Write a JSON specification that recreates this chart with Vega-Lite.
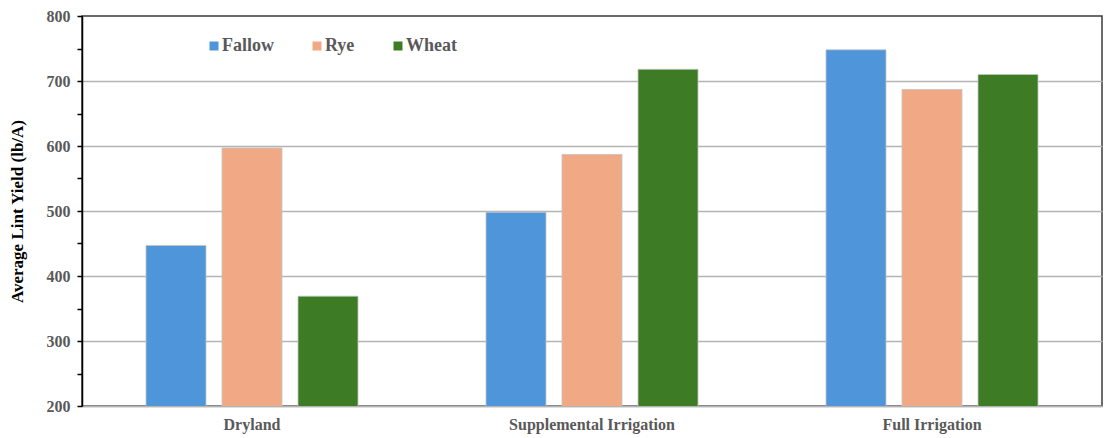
{
  "$schema": "https://vega.github.io/schema/vega-lite/v6.json",
  "autosize": {"type": "none"},
  "padding": {"left": 82, "top": 16, "right": 2, "bottom": 32},
  "width": 1020,
  "height": 390,
  "background": "white",
  "config": {
    "view": {"stroke": "#3a3a3a", "strokeWidth": 1.5},
    "font": "Liberation Serif"
  },
  "data": {
    "values": [
      {"system": "Dryland", "cover": "Fallow", "yield": 447},
      {"system": "Dryland", "cover": "Rye", "yield": 597},
      {"system": "Dryland", "cover": "Wheat", "yield": 369},
      {"system": "Supplemental Irrigation", "cover": "Fallow", "yield": 498},
      {"system": "Supplemental Irrigation", "cover": "Rye", "yield": 587},
      {"system": "Supplemental Irrigation", "cover": "Wheat", "yield": 718},
      {"system": "Full Irrigation", "cover": "Fallow", "yield": 748},
      {"system": "Full Irrigation", "cover": "Rye", "yield": 687},
      {"system": "Full Irrigation", "cover": "Wheat", "yield": 710}
    ]
  },
  "mark": {"type": "bar", "clip": true, "stroke": "#c4c4c4", "strokeWidth": 0.8},
  "encoding": {
    "x": {
      "field": "system",
      "type": "nominal",
      "sort": ["Dryland", "Supplemental Irrigation", "Full Irrigation"],
      "scale": {"paddingInner": 0, "paddingOuter": 0},
      "axis": {
        "title": null,
        "labelAngle": 0,
        "labelFont": "Liberation Serif",
        "labelFontWeight": "bold",
        "labelFontSize": 16,
        "labelColor": "#595959",
        "labelPadding": 10,
        "ticks": false,
        "domainColor": "#b4b4b4",
        "domainWidth": 1.5
      }
    },
    "xOffset": {
      "field": "cover",
      "type": "nominal",
      "sort": ["Fallow", "Rye", "Wheat"],
      "scale": {"paddingInner": 0.2105, "paddingOuter": 0.842}
    },
    "y": {
      "field": "yield",
      "type": "quantitative",
      "scale": {"domain": [200, 800], "nice": false, "zero": false},
      "axis": {
        "title": "Average Lint Yield (lb/A)",
        "titleFont": "Liberation Serif",
        "titleFontWeight": "bold",
        "titleFontSize": 17,
        "titleColor": "#000000",
        "titlePadding": 20,
        "values": [200, 250, 300, 350, 400, 450, 500, 550, 600, 650, 700, 750, 800],
        "labelExpr": "datum.value % 100 === 0 ? datum.label : ''",
        "labelFont": "Liberation Serif",
        "labelFontWeight": "bold",
        "labelFontSize": 16,
        "labelColor": "#595959",
        "labelPadding": 7,
        "tickSize": 5,
        "tickColor": "#000000",
        "tickWidth": 1.5,
        "domainColor": "#000000",
        "domainWidth": 1.5,
        "grid": true,
        "gridColor": "#b4b4b4",
        "gridWidth": 1.4,
        "gridOpacity": {
          "condition": {"test": "datum.value % 100 === 0 && datum.value < 800", "value": 1},
          "value": 0
        }
      }
    },
    "color": {
      "field": "cover",
      "type": "nominal",
      "sort": ["Fallow", "Rye", "Wheat"],
      "scale": {
        "domain": ["Fallow", "Rye", "Wheat"],
        "range": ["#4f95d9", "#f0a984", "#3d7c24"]
      },
      "legend": {
        "title": null,
        "orient": "none",
        "direction": "horizontal",
        "legendX": 123,
        "legendY": 21,
        "symbolType": "square",
        "symbolSize": 81,
        "symbolStrokeWidth": 0,
        "labelFont": "Liberation Serif",
        "labelFontWeight": "bold",
        "labelFontSize": 18,
        "labelColor": "#595959",
        "labelOffset": -1,
        "columnPadding": 34
      }
    }
  }
}
